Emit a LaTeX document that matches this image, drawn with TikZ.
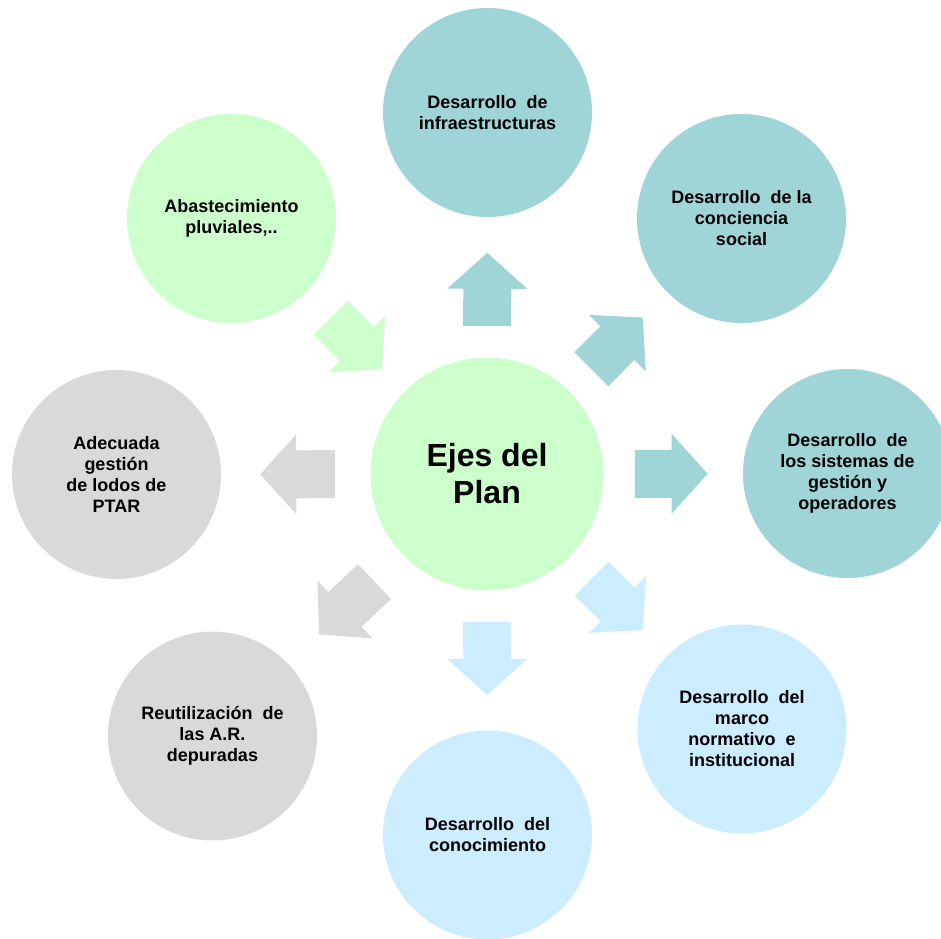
\documentclass[tikz,border=0pt]{standalone}
\usepackage{fontspec}
\setmainfont{Liberation Sans}
\usepackage{xcolor}
\usetikzlibrary{calc}

\definecolor{ejeTeal}{RGB}{160,213,216}
\definecolor{ejeGreen}{RGB}{204,255,204}
\definecolor{ejeBlue}{RGB}{204,236,255}
\definecolor{ejeGray}{RGB}{217,217,217}

% block arrow from a base point to a tip point
\newcommand{\blockarrow}[3]{%
  \coordinate (arrB) at (#2);
  \coordinate (arrT) at (#3);
  \coordinate (arrH) at ($(arrT)!36pt!(arrB)$);
  \fill[#1] ($(arrB)!24pt!90:(arrT)$) -- ($(arrH)!24pt!-90:(arrB)$) -- ($(arrH)!40pt!-90:(arrB)$)
    -- (arrT) -- ($(arrH)!40pt!90:(arrB)$) -- ($(arrH)!24pt!90:(arrB)$) -- ($(arrB)!24pt!-90:(arrT)$) -- cycle;
}

\begin{document}
\begin{tikzpicture}[
    x=1pt, y=-1pt,
    eje/.style={circle, inner sep=0pt, minimum size=209pt, align=center, font=\bfseries\fontsize{18}{21}\selectfont},
    centro/.style={circle, inner sep=0pt, minimum size=233pt, fill=ejeGreen, align=center, font=\bfseries\fontsize{32}{37}\selectfont}
]
\useasboundingbox (0,0) rectangle (941,938);
\clip (0,0) rectangle (941,938);

\node[centro] (plan) at (487,474) {Ejes del\\Plan};

\node[eje, fill=ejeTeal] (infra) at (487.5,112.5) {Desarrollo\ \ de\\infraestructuras};
\node[eje, fill=ejeTeal] (social) at (741.5,218.5) {Desarrollo\ \ de la\\conciencia\\social};
\node[eje, fill=ejeTeal] (gestion) at (847.5,473.5) {Desarrollo\ \ de\\los sistemas de\\gestión y\\operadores};
\node[eje, fill=ejeBlue] (marco) at (742,729) {Desarrollo\ \ del\\marco\\normativo\ \ e\\institucional};
\node[eje, fill=ejeBlue] (conoc) at (487.5,835) {Desarrollo\ \ del\\conocimiento};
\node[eje, fill=ejeGray] (reutil) at (212.5,736) {Reutilización\ \ de\\las A.R.\\depuradas};
\node[eje, fill=ejeGray] (lodos) at (116.5,474.5) {Adecuada\\gestión\\de lodos de\\PTAR};
\node[eje, fill=ejeGreen] (pluv) at (231.5,218.5) {Abastecimiento\\pluviales,..};

\foreach \n/\c in {infra/ejeTeal, social/ejeTeal, gestion/ejeTeal, marco/ejeBlue, conoc/ejeBlue, reutil/ejeGray, lodos/ejeGray}{
  \blockarrow{\c}{$(plan)!.41!(\n)$}{$(plan)!.612!(\n)$}
}
\blockarrow{ejeGreen}{$(plan)!.612!(pluv)$}{$(plan)!.41!(pluv)$}
\end{tikzpicture}
\end{document}
